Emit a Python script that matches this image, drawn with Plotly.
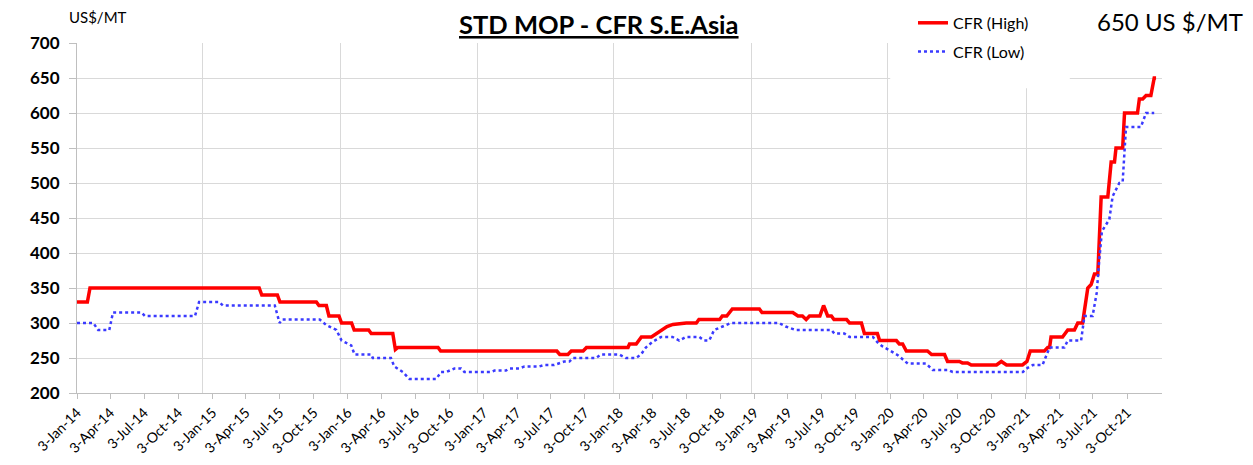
import plotly.graph_objects as go

# CFR (High), US$/MT
high_dates = [
    "2014-01-03", "2014-01-31", "2014-02-07", "2015-05-09", "2015-05-16", "2015-06-27",
    "2015-07-04", "2015-10-10", "2015-10-17", "2015-11-06", "2015-11-13", "2015-12-10",
    "2015-12-17", "2016-01-13", "2016-01-20", "2016-02-28", "2016-03-06", "2016-05-03",
    "2016-05-10", "2016-05-17", "2016-09-02", "2016-09-09", "2017-07-19", "2017-07-27",
    "2017-08-18", "2017-08-27", "2017-09-28", "2017-10-07", "2018-01-27", "2018-01-31",
    "2018-02-18", "2018-03-04", "2018-03-31", "2018-04-14", "2018-04-28", "2018-05-12",
    "2018-05-28", "2018-07-03", "2018-07-30", "2018-08-06", "2018-10-01", "2018-10-08",
    "2018-10-20", "2018-11-04", "2019-01-16", "2019-01-23", "2019-04-16", "2019-04-30",
    "2019-05-12", "2019-05-22", "2019-05-31", "2019-06-28", "2019-07-08", "2019-07-19",
    "2019-07-29", "2019-08-05", "2019-09-08", "2019-09-16", "2019-10-18", "2019-10-26",
    "2019-11-30", "2019-12-06", "2020-01-20", "2020-01-28", "2020-02-06", "2020-02-16",
    "2020-04-13", "2020-04-24", "2020-05-29", "2020-06-06", "2020-07-08", "2020-07-16",
    "2020-07-30", "2020-08-09", "2020-10-16", "2020-10-29", "2020-11-12", "2020-12-25",
    "2021-01-06", "2021-01-15", "2021-02-22", "2021-03-03", "2021-03-08", "2021-03-12",
    "2021-04-12", "2021-04-26", "2021-05-14", "2021-05-23", "2021-06-05", "2021-06-19",
    "2021-06-28", "2021-07-07", "2021-07-16", "2021-07-25", "2021-08-12", "2021-08-21",
    "2021-08-30", "2021-09-03", "2021-09-21", "2021-09-26", "2021-10-31", "2021-11-05",
    "2021-11-14", "2021-11-23", "2021-12-06", "2021-12-15", "2021-12-20",
]
high_values = [
    330, 330, 350, 350, 340, 340,
    330, 330, 325, 325, 310, 310,
    300, 300, 290, 290, 285, 285,
    262, 265, 265, 260, 260, 255,
    255, 260, 260, 265, 265, 270,
    270, 280, 280, 285, 290, 295,
    298, 300, 300, 305, 305, 310,
    310, 320, 320, 315, 315, 310,
    310, 305, 310, 310, 325, 310,
    310, 305, 305, 300, 300, 285,
    285, 275, 275, 270, 270, 260,
    260, 255, 255, 245, 245, 243,
    243, 240, 240, 245, 240, 240,
    245, 260, 260, 265, 265, 280,
    280, 290, 290, 300, 300, 350,
    355, 370, 370, 480, 480, 530,
    530, 550, 550, 600, 600, 620,
    620, 625, 625, 650, 650,
]

# CFR (Low)
low_dates = [
    "2014-01-03", "2014-02-16", "2014-03-01", "2014-03-31", "2014-04-10", "2014-06-26",
    "2014-07-05", "2014-11-17", "2014-11-28", "2015-01-21", "2015-01-31", "2015-06-20",
    "2015-07-03", "2015-07-10", "2015-10-19", "2015-11-06", "2015-12-03", "2015-12-17",
    "2016-01-12", "2016-01-21", "2016-03-06", "2016-03-10", "2016-04-28", "2016-05-07",
    "2016-05-30", "2016-06-17", "2016-08-28", "2016-09-10", "2016-09-24", "2016-10-16",
    "2016-11-03", "2016-11-12", "2017-01-23", "2017-02-01", "2017-03-04", "2017-03-13",
    "2017-04-09", "2017-04-23", "2017-06-02", "2017-06-15", "2017-07-12", "2017-08-08",
    "2017-08-22", "2017-08-31", "2017-11-02", "2017-11-15", "2018-01-03", "2018-01-21",
    "2018-02-17", "2018-03-03", "2018-03-16", "2018-04-03", "2018-04-26", "2018-05-27",
    "2018-06-14", "2018-07-02", "2018-08-07", "2018-08-20", "2018-09-03", "2018-09-16",
    "2018-10-09", "2018-10-31", "2019-03-10", "2019-03-28", "2019-04-24", "2019-07-29",
    "2019-08-06", "2019-09-02", "2019-09-16", "2019-11-18", "2019-12-01", "2019-12-15",
    "2020-01-02", "2020-01-24", "2020-02-20", "2020-04-09", "2020-04-27", "2020-06-07",
    "2020-06-20", "2020-12-26", "2021-01-08", "2021-01-22", "2021-02-17", "2021-03-08",
    "2021-04-17", "2021-04-26", "2021-06-01", "2021-06-10", "2021-07-02", "2021-07-13",
    "2021-07-20", "2021-07-27", "2021-08-16", "2021-08-25", "2021-09-12", "2021-09-21",
    "2021-09-30", "2021-11-09", "2021-11-23", "2021-12-15",
]
low_values = [
    300, 300, 290, 290, 315, 315,
    310, 310, 330, 330, 325, 325,
    300, 305, 305, 297, 290, 275,
    268, 255, 255, 250, 250, 238,
    230, 220, 220, 230, 230, 235,
    235, 230, 230, 232, 232, 235,
    235, 238, 238, 240, 240, 245,
    245, 250, 250, 255, 255, 250,
    250, 255, 265, 273, 280, 280,
    275, 280, 280, 275, 275, 290,
    295, 300, 300, 295, 290, 290,
    285, 285, 280, 280, 272, 266,
    261, 254, 242, 242, 233, 233,
    230, 230, 236, 240, 240, 265,
    265, 275, 275, 310, 310, 343,
    390, 431, 448, 481, 500, 502,
    580, 580, 600, 600,
]

tick_dates = [f"{y}-{m:02d}-03" for y in range(2014, 2022) for m in (1, 4, 7, 10)]
grid_dates = ["2014-12-08", "2015-12-15", "2016-12-18", "2017-12-19",
              "2018-12-26", "2019-12-27", "2021-01-05"]

FONT = "Lato"

fig = go.Figure()
fig.add_trace(go.Scatter(
    x=high_dates, y=high_values, mode="lines", name="CFR (High)",
    line=dict(color="#FF0000", width=3.5), legendgroup="h",
))
fig.add_trace(go.Scatter(
    x=low_dates, y=low_values, mode="lines", name="CFR (Low)",
    line=dict(color="#3A3AFF", width=2.5, dash="dot"), legendgroup="l",
))

# page has an 8px body margin, so the figure is drawn 8px smaller
fig.update_layout(
    width=1245, height=457,
    margin=dict(l=69, r=91, t=35, b=72, autoexpand=False),
    paper_bgcolor="white", plot_bgcolor="white",
    font=dict(family=FONT, color="black"),
    xaxis=dict(
        range=["2014-01-03", "2022-01-05"],
        tickmode="array", tickvals=tick_dates, tickformat="%-d-%b-%y",
        tickangle=-45, tickfont=dict(size=14, color="black"),
        ticks="outside", ticklen=5, tickcolor="#BFBFBF",
        showgrid=False, showline=True, linecolor="#BFBFBF", linewidth=1,
        minor=dict(tickmode="array", tickvals=grid_dates, showgrid=True,
                   gridcolor="#D9D9D9", gridwidth=1, ticks=""),
    ),
    yaxis=dict(
        range=[200, 700], dtick=50, tick0=200,
        tickfont=dict(size=17, color="black"),
        tickprefix="<b>", ticksuffix="</b>",
        ticks="outside", ticklen=7, tickcolor="#BFBFBF", ticklabelstandoff=6,
        showgrid=True, gridcolor="#D9D9D9", gridwidth=1,
        showline=True, linecolor="#BFBFBF", linewidth=1, zeroline=False,
    ),
    legend=dict(x=0.7705, y=1.106, xanchor="left", yanchor="top",
                traceorder="grouped", tracegroupgap=5,
                bgcolor="rgba(0,0,0,0)", font=dict(size=16, color="black")),
    shapes=[dict(type="rect", xref="paper", yref="paper", layer="above",
                 x0=0.7495, x1=0.915, y0=0.871, y1=1.012,
                 fillcolor="white", line=dict(width=0))],
    annotations=[
        dict(text="<b><u>STD MOP - CFR S.E.Asia</u></b>", xref="paper", yref="paper",
             x=0.481, y=1.1, xanchor="center", yanchor="top", showarrow=False,
             font=dict(size=25.5, color="black"), borderpad=0),
        dict(text="US$/MT", xref="paper", yref="paper", x=-0.009, y=1.074,
             xanchor="left", yanchor="middle", showarrow=False,
             font=dict(size=15, color="black")),
        dict(text="650 US $/MT", xref="paper", yref="paper", x=1.0765, y=1.06,
             xanchor="right", yanchor="middle", showarrow=False,
             font=dict(size=24, color="black")),
    ],
)

fig.write_html("out.html")
